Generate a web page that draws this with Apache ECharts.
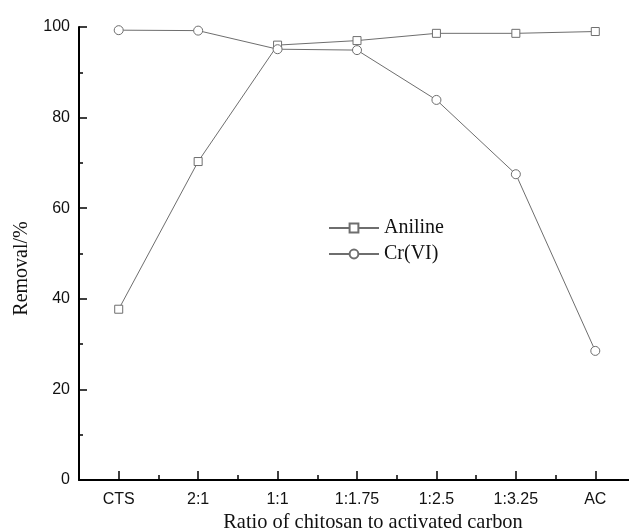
<!DOCTYPE html>
<html>
<head>
<meta charset="utf-8">
<script src="https://cdn.jsdelivr.net/npm/echarts@6/dist/echarts.min.js"></script>
<style>
  html, body { margin: 0; padding: 0; background: #fff; }
  #chart { width: 629px; height: 528px; }
</style>
</head>
<body>
<div id="chart"></div>
<script>
// ratio categories along the x axis
var categories = ['CTS', '2:1', '1:1', '1:1.75', '1:2.5', '1:3.25', 'AC'];
// removal (%)
var aniline = [37.7, 70.3, 96.0, 97.0, 98.6, 98.6, 99.0];
var crVI = [99.3, 99.2, 95.1, 94.9, 83.9, 67.5, 28.5];
var yTicks = [0, 20, 40, 60, 80, 100];

function toPoints(values) {
    return values.map(function(v, i) { return [i + 1, v]; });
}

var chart = echarts.init(document.getElementById('chart'));
var lineGray = '#6e6e6e';

chart.setOption({
    animation: false,
    backgroundColor: '#fff',
    grid: { left: 79, top: 27, right: -6, bottom: 48, outerBoundsMode: 'none', containLabel: false },
    legend: {
        left: 323, top: 213,
        orient: 'vertical',
        itemWidth: 50, itemHeight: 11, itemGap: 6,
        textStyle: { fontFamily: 'Liberation Serif', fontSize: 20, color: '#111' },
        data: ['Aniline', 'Cr(VI)']
    },
    xAxis: [{
        type: 'value',
        min: 0.5, max: 7.5, interval: 0.5,
        name: 'Ratio of chitosan to activated carbon',
        nameLocation: 'middle',
        nameGap: 25,
        nameTextStyle: { fontFamily: 'Liberation Serif', fontSize: 20.4, color: '#111', padding: [0, 0, 0, 32] },
        axisLine: { lineStyle: { color: '#000', width: 2 } },
        axisTick: { inside: true, length: 5, lineStyle: { color: '#000', width: 1.5 } },
        axisLabel: {
            margin: 12,
            fontFamily: 'Liberation Sans', fontSize: 16, color: '#111',
            formatter: function(v) {
                return Number.isInteger(v) ? (categories[v - 1] || '') : '';
            }
        },
        splitLine: { show: false }
    }, {
        type: 'value',
        min: 0.5, max: 7.5,
        position: 'bottom',
        axisLine: { show: false },
        axisTick: {
            inside: true, length: 9,
            customValues: categories.map(function(c, i) { return i + 1; }),
            lineStyle: { color: '#000', width: 1.5 }
        },
        axisLabel: { show: false },
        splitLine: { show: false }
    }],
    yAxis: {
        type: 'value',
        min: yTicks[0], max: yTicks[yTicks.length - 1], interval: 20,
        name: 'Removal/%',
        nameLocation: 'middle',
        nameGap: 47,
        nameTextStyle: { fontFamily: 'Liberation Serif', fontSize: 20, color: '#111', padding: [0, 30, 0, 0] },
        axisLine: { show: true, lineStyle: { color: '#000', width: 2 } },
        axisTick: { inside: true, length: 8, lineStyle: { color: '#000', width: 1.5 } },
        minorTick: { show: true, splitNumber: 2, length: 4, lineStyle: { color: '#000', width: 1.5 } },
        axisLabel: { margin: 9, fontFamily: 'Liberation Sans', fontSize: 16, color: '#111' },
        splitLine: { show: false }
    },
    series: [{
        name: 'Aniline',
        type: 'line',
        data: toPoints(aniline),
        symbol: 'rect',
        symbolSize: 8,
        showAllSymbol: true,
        lineStyle: { color: lineGray, width: 1 },
        itemStyle: { color: '#fff', borderColor: lineGray, borderWidth: 1 }
    }, {
        name: 'Cr(VI)',
        type: 'line',
        data: toPoints(crVI),
        symbol: 'circle',
        symbolSize: 9,
        showAllSymbol: true,
        lineStyle: { color: lineGray, width: 1 },
        itemStyle: { color: '#fff', borderColor: lineGray, borderWidth: 1 }
    }]
});
</script>
</body>
</html>
